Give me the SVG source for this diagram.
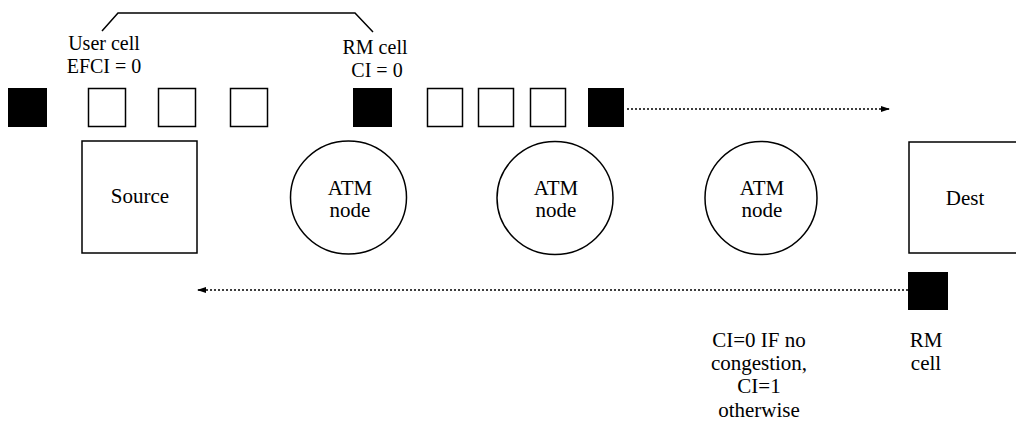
<svg xmlns="http://www.w3.org/2000/svg" width="1016" height="422" viewBox="0 0 1016 422">
  <style>
    text { font-family: 'Liberation Serif', 'DejaVu Serif', serif; font-size: 21px; fill: #000; text-anchor: middle; }
    .lbl { font-size: 20px; }
    .cell-user { fill: #fff; stroke: #000; stroke-width: 1.5; }
    .cell-rm { fill: #000; stroke: none; }
    .box { fill: #fff; stroke: #000; stroke-width: 1.5; }
    .flow { fill: none; stroke: #000; stroke-width: 1.5; stroke-dasharray: 2 2; }
    .bracket { fill: none; stroke: #000; stroke-width: 1.5; }
  </style>
  <defs>
    <marker id="arrow" markerWidth="10" markerHeight="8" refX="9" refY="4" orient="auto" markerUnits="userSpaceOnUse">
      <path d="M0,1 L9,4 L0,7 Z" fill="#000"/>
    </marker>
  </defs>

  <rect width="1016" height="422" fill="#fff"/>

  <!-- bracket grouping the cell labels -->
  <path class="bracket" d="M102,31 L118,13 L355,13 L373,32"/>

  <g font-family="Liberation Serif, DejaVu Serif, serif">
    <!-- labels above the cell stream -->
    <g id="label-user-cell">
      <text class="lbl" x="104" y="50">User cell</text>
      <text class="lbl" x="104" y="73">EFCI = 0</text>
    </g>
    <g id="label-rm-cell">
      <text class="lbl" x="375" y="54">RM cell</text>
      <text class="lbl" x="377" y="77">CI = 0</text>
    </g>

    <!-- forward cell stream -->
    <g id="cells">
      <rect class="cell-rm" x="8" y="88" width="39" height="39"/>
      <rect class="cell-user" x="88.5" y="88.5" width="37" height="38"/>
      <rect class="cell-user" x="158.5" y="88.5" width="37" height="38"/>
      <rect class="cell-user" x="230.5" y="88.5" width="37" height="38"/>
      <rect class="cell-rm" x="353" y="88" width="39" height="39"/>
      <rect class="cell-user" x="427.5" y="88.5" width="35" height="38"/>
      <rect class="cell-user" x="478.5" y="88.5" width="35" height="38"/>
      <rect class="cell-user" x="530.5" y="88.5" width="35" height="38"/>
      <rect class="cell-rm" x="588" y="88" width="36" height="39"/>
    </g>

    <g id="source">
      <rect class="box" x="82" y="141" width="115" height="112"/>
      <text x="140" y="203">Source</text>
    </g>

    <g id="atm1">
      <ellipse class="box" cx="348.5" cy="197.5" rx="58" ry="56.5"/>
      <text x="350" y="195">ATM</text>
      <text x="350" y="217">node</text>
    </g>

    <g id="atm2">
      <ellipse class="box" cx="555" cy="198" rx="58" ry="56.5"/>
      <text x="556" y="195">ATM</text>
      <text x="556" y="217">node</text>
    </g>

    <g id="atm3">
      <ellipse class="box" cx="761" cy="198" rx="56" ry="56.5"/>
      <text x="762" y="195">ATM</text>
      <text x="762" y="217">node</text>
    </g>

    <g id="dest">
      <rect class="box" x="909" y="142" width="120" height="111"/>
      <text x="965" y="205">Dest</text>
    </g>

    <g id="rm-return">
      <rect class="cell-rm" x="908" y="272" width="40" height="38"/>
      <text x="926" y="347">RM</text>
      <text x="926" y="370">cell</text>
    </g>

    <g id="note">
      <text x="759" y="347">CI=0 IF no</text>
      <text x="759" y="370">congestion,</text>
      <text x="759" y="393">CI=1</text>
      <text x="759" y="417">otherwise</text>
    </g>
  </g>

  <!-- connectors -->
  <g id="connectors">
    <line class="flow" x1="627" y1="109" x2="890" y2="109" marker-end="url(#arrow)"/>
    <line class="flow" x1="908" y1="290" x2="197" y2="290" marker-end="url(#arrow)"/>
  </g>
</svg>
